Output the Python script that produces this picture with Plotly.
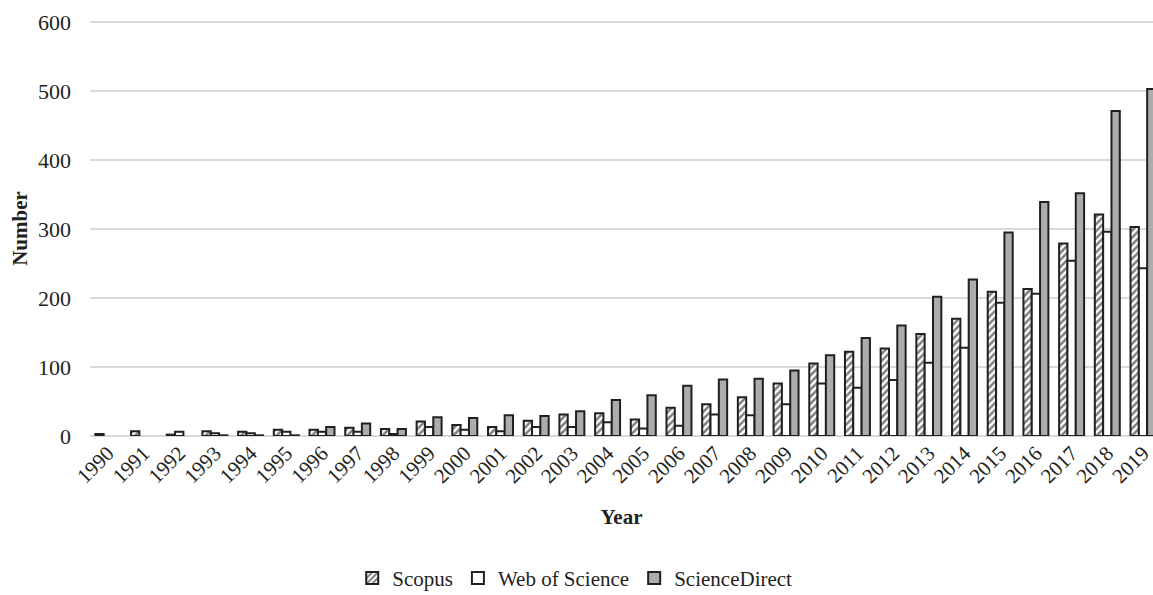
import plotly.graph_objects as go

years = [str(y) for y in range(1990, 2020)]
scopus = [3, 7, 2, 7, 6, 9, 9, 12, 10, 21, 16, 13, 22, 31, 33, 24, 41, 46, 56, 76,
          105, 122, 127, 148, 170, 209, 213, 279, 321, 303]
wos = [None, None, 6, 4, 4, 6, 6, 6, 3, 13, 9, 7, 13, 13, 20, 11, 15, 31, 30, 46,
       76, 70, 81, 106, 128, 193, 206, 254, 296, 243]
sciencedirect = [None, None, None, 1, 1, 1, 13, 18, 10, 27, 26, 30, 29, 36, 52, 59, 73, 82, 83, 95,
                 117, 142, 160, 202, 227, 295, 339, 352, 471, 503]

FONT = "Liberation Serif"
line = dict(color="#231f20", width=2)

fig = go.Figure()
fig.add_trace(go.Bar(
    name="Scopus", x=years, y=scopus,
    marker=dict(color="white", line=line,
                pattern=dict(shape="/", fgcolor="black", bgcolor="white",
                             size=5, solidity=0.5)),
))
fig.add_trace(go.Bar(
    name="Web of Science", x=years, y=wos,
    marker=dict(color="white", line=line),
))
fig.add_trace(go.Bar(
    name="ScienceDirect", x=years, y=sciencedirect,
    marker=dict(color="#abacae", line=line),
))

fig.update_layout(
    width=1153, height=595,
    margin=dict(l=90, r=0, t=21, b=159, autoexpand=False),
    paper_bgcolor="white", plot_bgcolor="white",
    barmode="group", bargap=0.3, bargroupgap=0,
    font=dict(family=FONT, size=22, color="#231f20"),
    legend=dict(orientation="h", x=0.456, xanchor="center", y=-0.343, yanchor="middle",
                font=dict(family=FONT, size=21, color="#231f20"),
                itemwidth=30, tracegroupgap=0),
    showlegend=True,
)
fig.update_xaxes(
    type="category", range=[-0.5, 29.28], automargin=False,
    tickangle=-45, tickfont=dict(family=FONT, size=21),
    showgrid=False, showline=False, ticks="",
    title=dict(text="<b>Year</b>", font=dict(family=FONT, size=21), standoff=22),
)
fig.update_yaxes(
    range=[0, 601.5], tickvals=[0, 100, 200, 300, 400, 500, 600], automargin=False,
    showgrid=True, gridcolor="#d9d9d9", gridwidth=2,
    zeroline=True, zerolinecolor="#d9d9d9", zerolinewidth=2,
    showline=False, ticks="", ticklabelstandoff=18,
    tickfont=dict(family=FONT, size=22),
    title=dict(text="<b>Number</b>", font=dict(family=FONT, size=21), standoff=4),
)

fig.write_html(
    "out.html",
    config={"displayModeBar": False},
    post_script="document.body.style.margin='0';document.body.style.overflow='hidden';",
)
